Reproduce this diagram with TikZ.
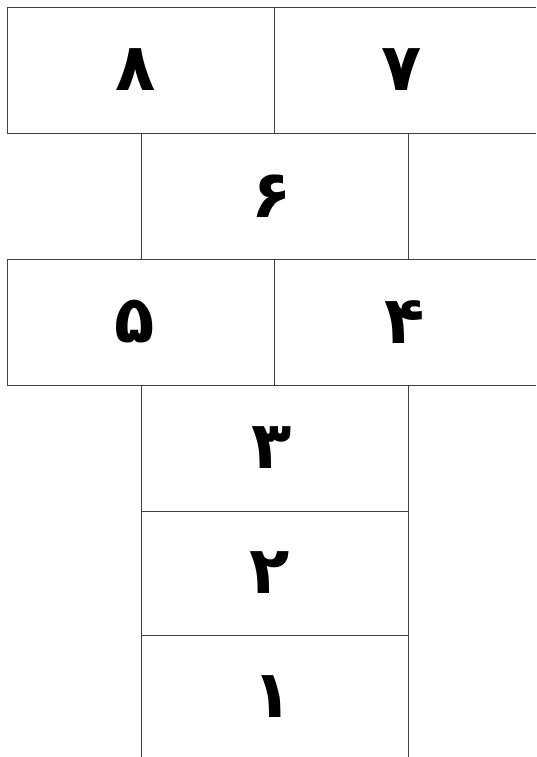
\documentclass[tikz,border=0pt]{standalone}
\usepackage{fontspec}
\newfontfamily\arabicfont[Script=Arabic]{DejaVu Sans}
\TeXXeTstate=1
\tikzset{
  grid/.style={draw=black!75, line width=1pt},
  digit/.style={font=\arabicfont\bfseries\fontsize{66}{66}\selectfont, inner sep=0pt}
}
\begin{document}
\begin{tikzpicture}[x=1pt,y=-1pt]
\useasboundingbox (0,0) rectangle (536,757);
% top row
\draw[grid] (536,8) -- (7,8) -- (7,133) -- (536,133);
\draw[grid] (274,8) -- (274,133);
% row 2
\draw[grid] (141,133) -- (141,259);
\draw[grid] (408,133) -- (408,259);
% row 3
\draw[grid] (536,259) -- (7,259) -- (7,385) -- (536,385);
\draw[grid] (274,259) -- (274,385);
% lower column
\draw[grid] (141,385) -- (141,757);
\draw[grid] (408,385) -- (408,757);
\draw[grid] (141,511) -- (408,511);
\draw[grid] (141,635) -- (408,635);
% digits
\node[digit] (d8) at (136,70) {\beginR ۸\endR};
\node[digit] (d7) at (402,70) {\beginR ۷\endR};
\node[digit] (d6) at (272,196) {\beginR ۶\endR};
\node[digit] (d5) at (135,322) {\beginR ۵\endR};
\node[digit] (d4) at (405,322) {\beginR ۴\endR};
\node[digit] (d3) at (272,448) {\beginR ۳\endR};
\node[digit] (d2) at (270,573) {\beginR ۲\endR};
\node[digit] (d1) at (273,697) {\beginR ۱\endR};
\end{tikzpicture}
\end{document}
